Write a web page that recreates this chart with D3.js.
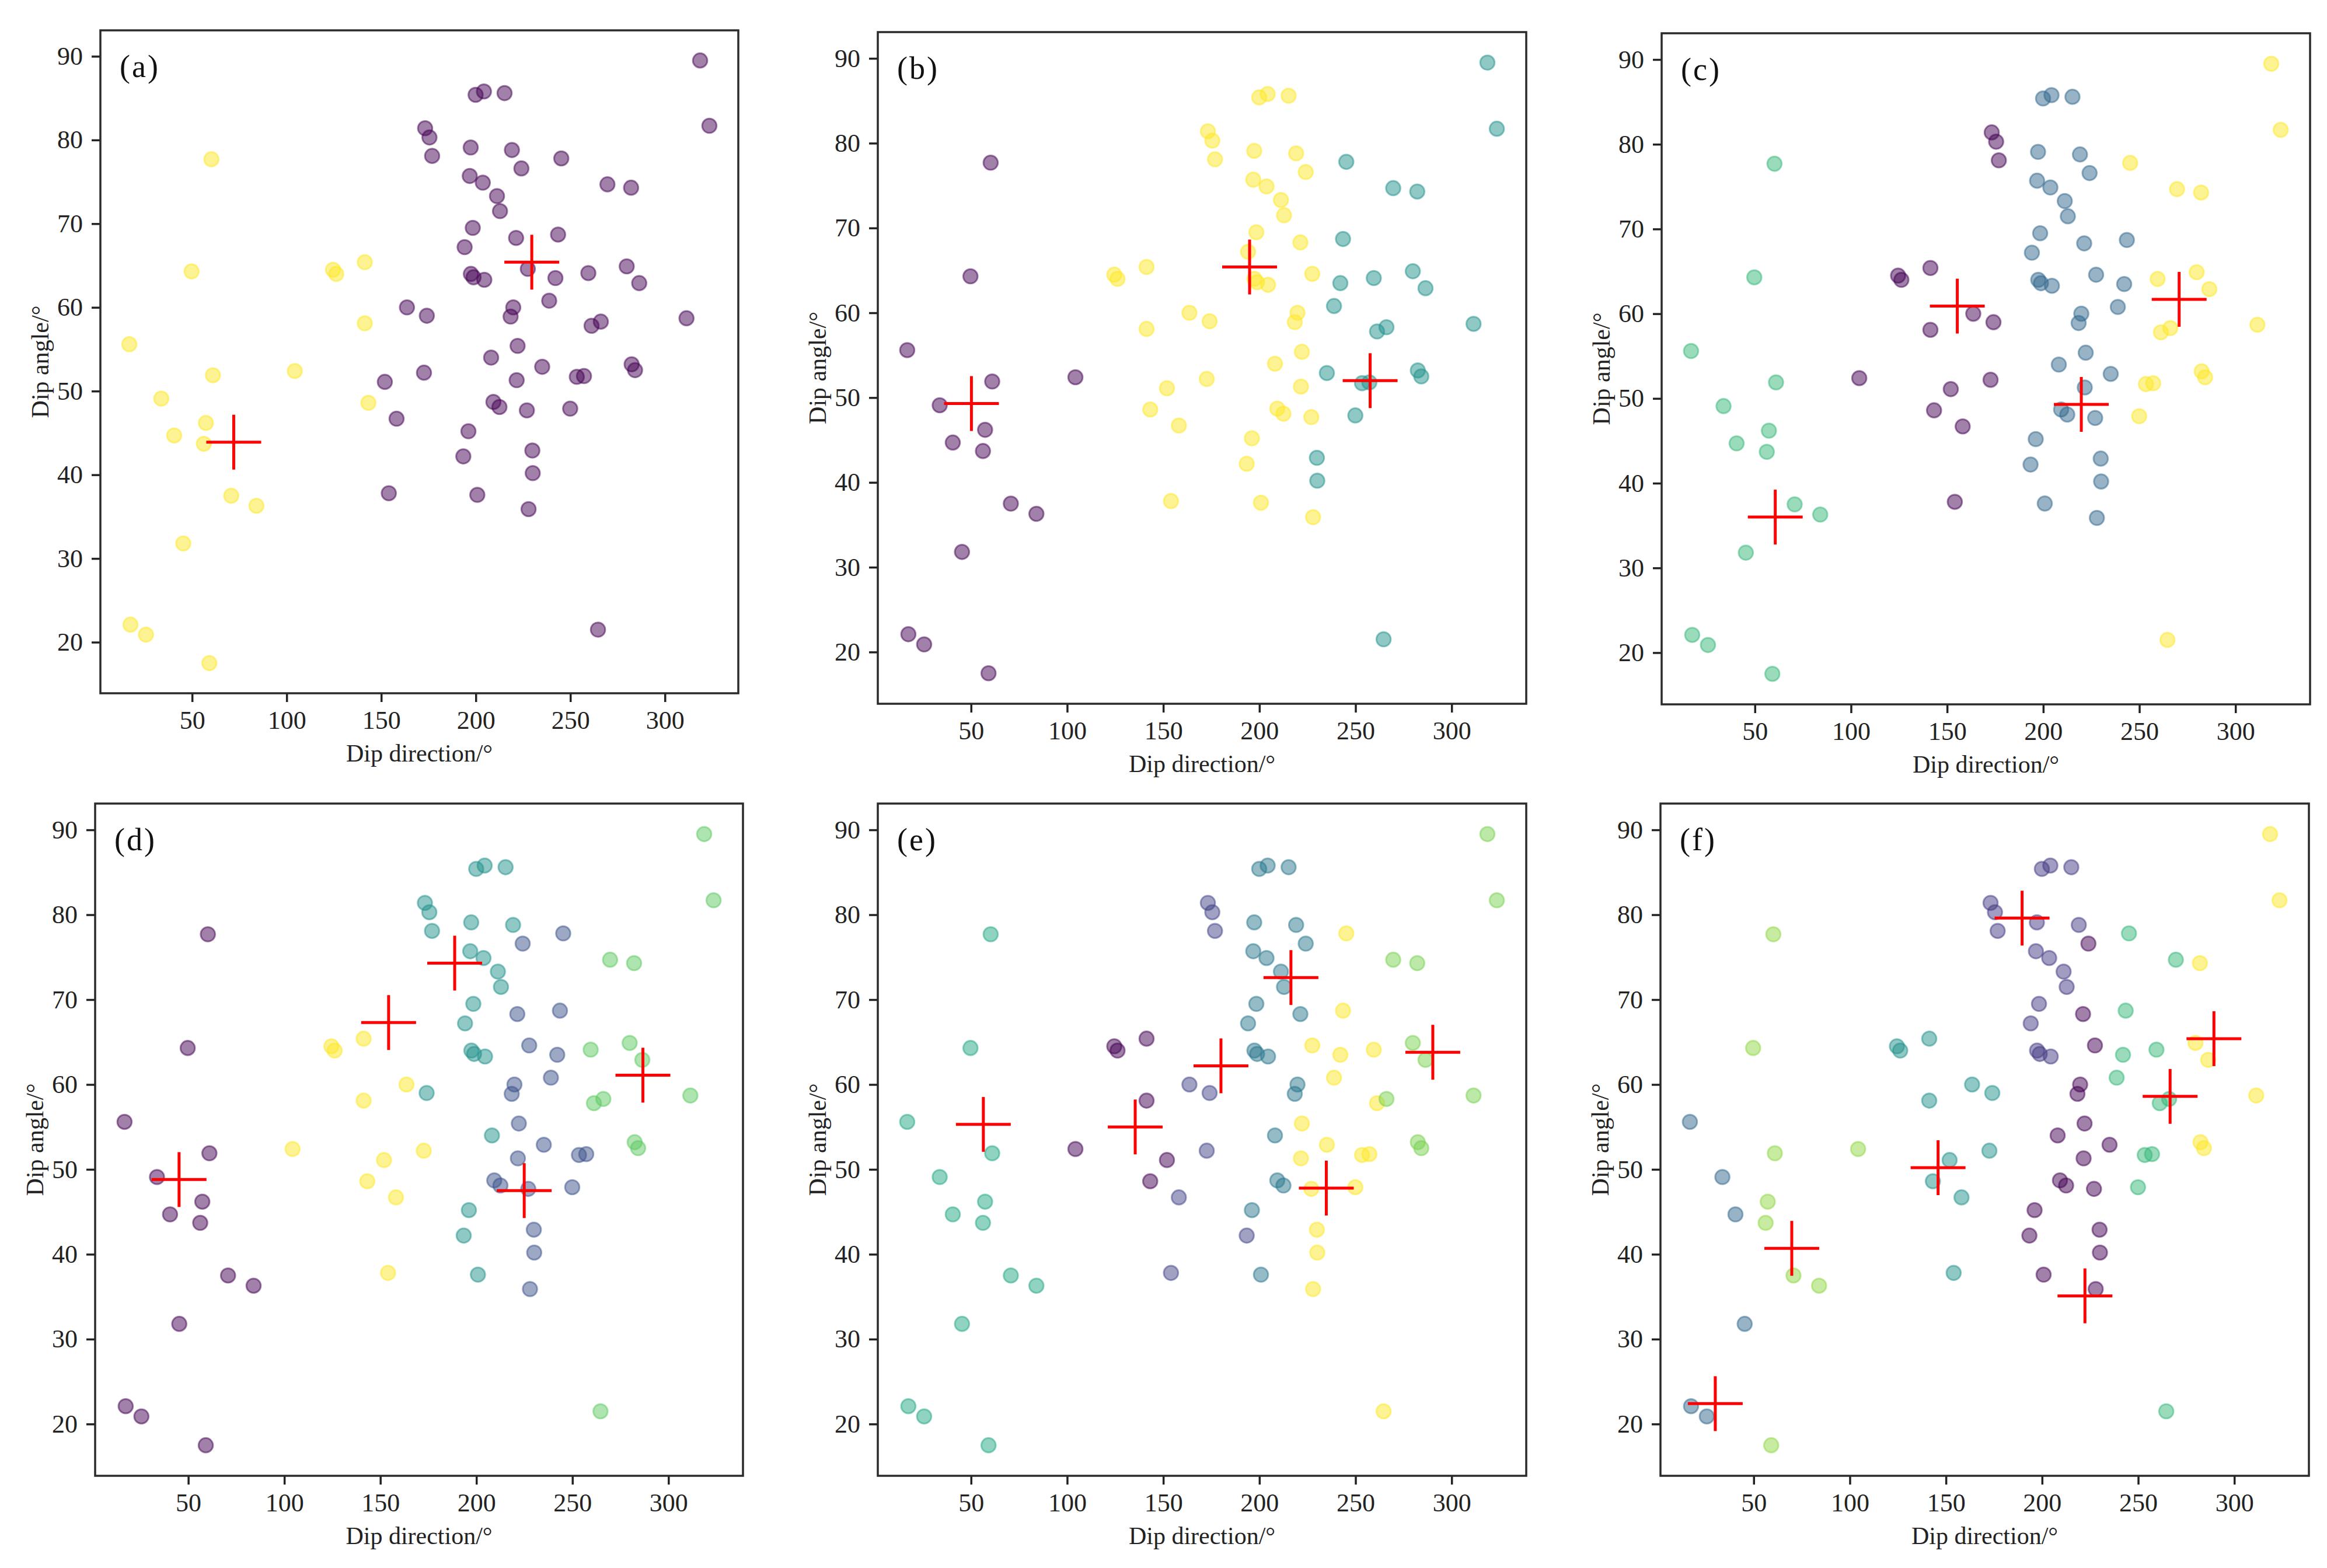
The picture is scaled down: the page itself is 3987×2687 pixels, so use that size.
<!DOCTYPE html>
<html><head><meta charset="utf-8">
<script src="https://cdn.jsdelivr.net/npm/d3@7"></script>
<style>body{margin:0;background:#fff}</style>
</head><body>
<svg id="c" width="3987" height="2687" xmlns="http://www.w3.org/2000/svg"></svg>
<script>
// ---- data ----
const dipDirection = [60.2,49.7,124.5,126.2,141.3,141.3,16.8,61.0,104.3,33.7,
143.2,57.3,40.5,56.2,70.7,84.0,45.3,17.4,25.6,59.1,
318.6,323.5,199.9,204.3,215.2,173.2,175.5,176.9,197.3,219.1,
245.2,224.1,196.8,203.7,269.6,282.1,211.2,212.8,198.4,221.3,
243.5,194.1,279.8,197.4,198.8,204.5,227.5,242.1,259.5,286.4,
163.6,174.1,238.8,219.8,218.4,261.2,266.1,311.4,222.1,208.1,
235.1,172.6,151.9,253.4,257.2,282.4,284.2,221.6,209.3,212.5,
227.0,249.9,158.1,196.1,193.4,229.9,230.1,154.0,200.8,227.9,
264.6];
const dipAngle = [77.7,64.3,64.5,64.0,65.4,58.1,55.6,51.9,52.4,49.1,
48.6,46.2,44.7,43.7,37.5,36.3,31.8,22.1,20.9,17.5,
89.5,81.7,85.4,85.8,85.6,81.4,80.3,78.1,79.1,78.8,
77.8,76.6,75.7,74.9,74.7,74.3,73.3,71.5,69.5,68.3,
68.7,67.2,64.9,64.0,63.6,63.3,64.6,63.5,64.1,62.9,
60.0,59.0,60.8,60.0,58.9,57.8,58.3,58.7,55.4,54.0,
52.9,52.2,51.1,51.7,51.8,53.2,52.5,51.3,48.7,48.1,
47.7,47.9,46.7,45.2,42.2,42.9,40.2,37.8,37.6,35.9,
21.5];

const xTicks = [50,100,150,200,250,300];
const yTicks = [20,30,40,50,60,70,80,90];
const xTitle = "Dip direction/°";
const yTitle = "Dip angle/°";

const labelsA = [1,1,1,1,1,1,1,1,1,1, 1,1,1,1,1,1,1,1,1,1,
0,0,0,0,0,0,0,0,0,0, 0,0,0,0,0,0,0,0,0,0, 0,0,0,0,0,0,0,0,0,0,
0,0,0,0,0,0,0,0,0,0, 0,0,0,0,0,0,0,0,0,0, 0,0,0,0,0,0,0,0,0,0, 0];
const labelsB = [0,0,2,2,2,2,0,0,0,0, 2,0,0,0,0,0,0,0,0,0,
1,1,2,2,2,2,2,2,2,2, 1,2,2,2,1,1,2,2,2,2, 1,2,1,2,2,2,2,1,1,1,
2,2,1,2,2,1,1,1,2,2, 1,2,2,1,1,1,1,2,2,2, 2,1,2,2,2,1,1,2,2,2, 1];
const labelsC = [2,2,0,0,0,0,2,2,0,2, 0,2,2,2,2,2,2,2,2,2,
3,3,1,1,1,0,0,0,1,1, 3,1,1,1,3,3,1,1,1,1, 1,1,3,1,1,1,1,1,3,3,
0,0,1,1,1,3,3,3,1,1, 1,0,0,3,3,3,3,1,1,1, 1,3,0,1,1,1,1,0,1,1, 3];
const labelsD = [0,0,4,4,4,4,0,0,4,0, 4,0,0,0,0,0,0,0,0,0,
3,3,2,2,2,2,2,2,2,2, 1,1,2,2,3,3,2,2,2,1, 1,2,3,2,2,2,1,1,3,3,
4,2,1,1,1,3,3,3,1,2, 1,4,4,1,1,3,3,1,1,1, 1,1,4,2,2,1,1,4,2,1, 3];
const labelsE = [3,3,0,0,0,0,3,3,0,3, 0,3,3,3,3,3,3,3,3,3,
4,4,2,2,2,1,1,1,2,2, 5,2,2,2,4,4,2,2,2,2, 5,2,4,2,2,2,5,5,5,4,
1,1,5,2,2,5,4,4,5,2, 5,1,0,5,5,4,4,5,2,2, 5,5,1,2,1,5,5,1,2,5, 5];
const labelsF = [5,5,3,3,3,3,2,5,5,2, 3,5,2,5,5,5,2,2,2,5,
6,6,1,1,1,1,1,1,1,1, 4,0,1,1,4,6,1,1,1,0, 4,1,6,1,1,1,0,4,4,6,
3,3,4,0,0,4,4,6,0,0, 0,3,3,4,4,6,6,0,0,0, 0,4,3,0,0,0,0,3,0,0, 4];

const centersA = [[72.0,43.9],[229.6,65.4]];
const centersB = [[50.2,49.3],[194.9,65.4],[257.6,52.0]];
const centersC = [[60.6,36.0],[155.3,60.9],[219.8,49.3],[270.7,61.7]];
const centersD = [[45.2,48.8],[154.3,67.3],[188.7,74.3],[224.9,47.5],[286.7,61.1]];
const centersE = [[56.4,55.3],[135.4,55.0],[180.0,62.2],[216.4,72.6],[234.8,47.8],[290.2,63.8]];
const centersF = [[30.0,22.4],[69.8,40.7],[145.9,50.2],[189.6,79.6],[222.3,35.1],[266.6,58.6],[289.4,65.4]];

const panelNames = ["(a)","(b)","(c)","(d)","(e)","(f)"];
const clusterCounts = [2,3,4,5,6,7];

// ---- layout ----
const panels = [
  {labels:labelsA, centers:centersA, r:[172,52,1265,1188]},
  {labels:labelsB, centers:centersB, r:[1504,55,2615,1206]},
  {labels:labelsC, centers:centersC, r:[2847,57,3958,1207]},
  {labels:labelsD, centers:centersD, r:[163,1377,1273,2529]},
  {labels:labelsE, centers:centersE, r:[1504,1377,2615,2529]},
  {labels:labelsF, centers:centersF, r:[2845,1377,3956,2529]}
];

const FONT = "'Liberation Serif','Times New Roman','DejaVu Serif',serif";
const svg = d3.select("#c");
svg.append("rect").attr("width",3987).attr("height",2687).attr("fill","#fff");

panels.forEach((p, pi) => {
  const [L,T,R,B] = p.r;
  const k = clusterCounts[pi];
  const x = d3.scaleLinear().domain([1.5,338.8]).range([L,R]);
  const y = d3.scaleLinear().domain([13.9,93.1]).range([B,T]);
  const g = svg.append("g");

  const gx = g.append("g").attr("transform",`translate(0,${B})`)
    .call(d3.axisBottom(x).tickValues(xTicks).tickSize(15).tickPadding(15).tickSizeOuter(0));
  const gy = g.append("g").attr("transform",`translate(${L},0)`)
    .call(d3.axisLeft(y).tickValues(yTicks).tickSize(15).tickPadding(15).tickSizeOuter(0));
  [gx,gy].forEach(a=>{
    a.attr("font-family",null);
    a.select(".domain").remove();
    a.selectAll(".tick line").attr("stroke","#222").attr("stroke-width",3.5);
    a.selectAll(".tick text").attr("fill","#222").style("font-family",FONT).style("font-size","44px");
  });

  g.append("rect").attr("x",L).attr("y",T).attr("width",R-L).attr("height",B-T)
    .attr("fill","none").attr("stroke","#2a2a2a").attr("stroke-width",3.5);

  g.append("g").selectAll("circle").data(dipDirection.map((d,i)=>i)).join("circle")
    .attr("cx",i=>x(dipDirection[i])).attr("cy",i=>y(dipAngle[i])).attr("r",12.3)
    .attr("fill",i=>d3.interpolateViridis(p.labels[i]/(k-1))).attr("fill-opacity",0.5)
    .attr("stroke",i=>d3.interpolateViridis(p.labels[i]/(k-1))).attr("stroke-opacity",0.5)
    .attr("stroke-width",3);

  const cg = g.append("g").attr("stroke","#ff0000").attr("stroke-width",5);
  p.centers.forEach(c=>{
    const cx = x(c[0]), cy = y(c[1]);
    cg.append("line").attr("x1",cx-47).attr("x2",cx+47).attr("y1",cy).attr("y2",cy);
    cg.append("line").attr("x1",cx).attr("x2",cx).attr("y1",cy-47).attr("y2",cy+47);
  });

  g.append("text").attr("x",L+33).attr("y",T+80).text(panelNames[pi])
    .style("font-family",FONT).style("font-size","54px").style("letter-spacing","3px").attr("fill","#111");

  g.append("text").attr("x",(L+R)/2).attr("y",B+117).attr("text-anchor","middle")
    .text(xTitle).style("font-family",FONT).style("font-size","42px").attr("fill","#222");
  g.append("text").attr("transform",`translate(${L-89},${(T+B)/2}) rotate(-90)`)
    .attr("text-anchor","middle").text(yTitle)
    .style("font-family",FONT).style("font-size","42px").attr("fill","#222");
});
</script>
</body></html>
